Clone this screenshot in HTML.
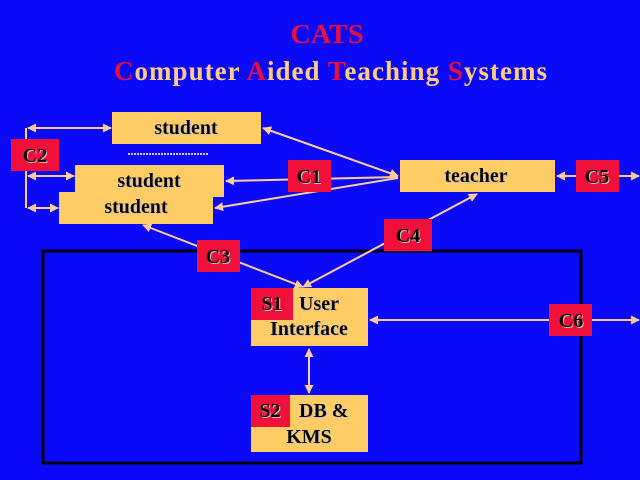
<!DOCTYPE html>
<html><head><meta charset="utf-8"><style>
html,body{margin:0;padding:0;background:#0A0AF8;}
svg{display:block;}
text{font-family:"Liberation Serif",serif;font-weight:bold;}
</style></head><body>
<svg width="640" height="480" viewBox="0 0 640 480" xmlns="http://www.w3.org/2000/svg">
<defs>
<marker id="ah" viewBox="0 0 10 10" refX="9" refY="5" markerWidth="4.5" markerHeight="4.5" orient="auto-start-reverse" markerUnits="strokeWidth">
<path d="M0,0 L10,5 L0,10 z" fill="#FFCC99"/>
</marker>
<filter id="sh" x="-10%" y="-10%" width="130%" height="130%">
<feOffset dx="1" dy="1" in="SourceAlpha" result="o"/>
<feFlood flood-color="#c8c0c0"/>
<feComposite in2="o" operator="in" result="s"/>
<feMerge><feMergeNode in="s"/><feMergeNode in="SourceGraphic"/></feMerge>
</filter>
</defs>
<rect width="640" height="480" fill="#0A0AF8"/>

<!-- title -->
<text x="327" y="43" font-size="27" fill="#E8103A" text-anchor="middle" textLength="73" lengthAdjust="spacingAndGlyphs">CATS</text>
<text x="114" y="80" font-size="27" fill="#FFCC80" textLength="433" lengthAdjust="spacing"><tspan fill="#E8103A">C</tspan>omputer <tspan fill="#E8103A">A</tspan>ided <tspan fill="#E8103A">T</tspan>eaching <tspan fill="#E8103A">S</tspan>ystems</text>

<!-- black system rect -->
<rect x="43" y="251" width="538" height="212" fill="none" stroke="#000010" stroke-width="3"/>

<!-- connectors -->
<g stroke="#FFCC99" stroke-width="2" fill="none">
<line x1="26" y1="128" x2="26" y2="208"/>
<line x1="28" y1="128" x2="111" y2="128" marker-start="url(#ah)" marker-end="url(#ah)"/>
<line x1="28" y1="176" x2="74" y2="176" marker-start="url(#ah)" marker-end="url(#ah)"/>
<line x1="28" y1="208" x2="58" y2="208" marker-start="url(#ah)" marker-end="url(#ah)"/>
<line x1="398" y1="176" x2="263" y2="128" marker-start="url(#ah)" marker-end="url(#ah)"/>
<line x1="398" y1="177" x2="226" y2="181" marker-end="url(#ah)"/>
<line x1="398" y1="178" x2="215" y2="208" marker-end="url(#ah)"/>
<line x1="303" y1="287" x2="143" y2="225" marker-start="url(#ah)" marker-end="url(#ah)"/>
<line x1="303" y1="287" x2="477" y2="194" marker-start="url(#ah)" marker-end="url(#ah)"/>
<line x1="576" y1="176" x2="557" y2="176" marker-end="url(#ah)"/>
<line x1="619" y1="176" x2="639" y2="176" marker-end="url(#ah)"/>
<line x1="549" y1="320" x2="370" y2="320" marker-end="url(#ah)"/>
<line x1="592" y1="320" x2="639" y2="320" marker-end="url(#ah)"/>
<line x1="309" y1="349" x2="309" y2="393" marker-start="url(#ah)" marker-end="url(#ah)"/>
</g>
<line x1="128" y1="154" x2="208" y2="154" stroke="#D8C8F0" stroke-width="2" stroke-dasharray="2,1"/>

<!-- student boxes -->
<rect x="112" y="112" width="149" height="32" fill="#FFCC66"/>
<rect x="75" y="165" width="149" height="32" fill="#FFCC66"/>
<rect x="59" y="192" width="154" height="32" fill="#FFCC66"/>
<rect x="400" y="160" width="155" height="32" fill="#FFCC66"/>
<rect x="251" y="288" width="117" height="58" fill="#FFCC66"/>
<rect x="251" y="395" width="117" height="57" fill="#FFCC66"/>

<!-- red label boxes -->
<g fill="#F0103A">
<rect x="11" y="139" width="48" height="32"/>
<rect x="288" y="160" width="43" height="32"/>
<rect x="197" y="240" width="43" height="32"/>
<rect x="384" y="219" width="48" height="32"/>
<rect x="576" y="160" width="43" height="32"/>
<rect x="549" y="304" width="43" height="32"/>
<rect x="251" y="288" width="42" height="32"/>
<rect x="251" y="395" width="39" height="32"/>
</g>

<g fill="#000" font-size="20" filter="url(#sh)">
<text x="186" y="134" text-anchor="middle">student</text>
<text x="149" y="187" text-anchor="middle">student</text>
<text x="136" y="213" text-anchor="middle">student</text>
<text x="476" y="182" text-anchor="middle">teacher</text>
<text x="35" y="162" text-anchor="middle">C2</text>
<text x="309" y="183" text-anchor="middle">C1</text>
<text x="218" y="263" text-anchor="middle">C3</text>
<text x="408" y="242" text-anchor="middle">C4</text>
<text x="597" y="183" text-anchor="middle">C5</text>
<text x="571" y="327" text-anchor="middle">C6</text>
<text x="272" y="310" text-anchor="middle">S1</text>
<text x="299" y="310">User</text>
<text x="309" y="335" text-anchor="middle">Interface</text>
<text x="270" y="417" text-anchor="middle">S2</text>
<text x="299" y="417">DB &amp;</text>
<text x="309" y="443" text-anchor="middle">KMS</text>
</g>
</svg>
</body></html>
